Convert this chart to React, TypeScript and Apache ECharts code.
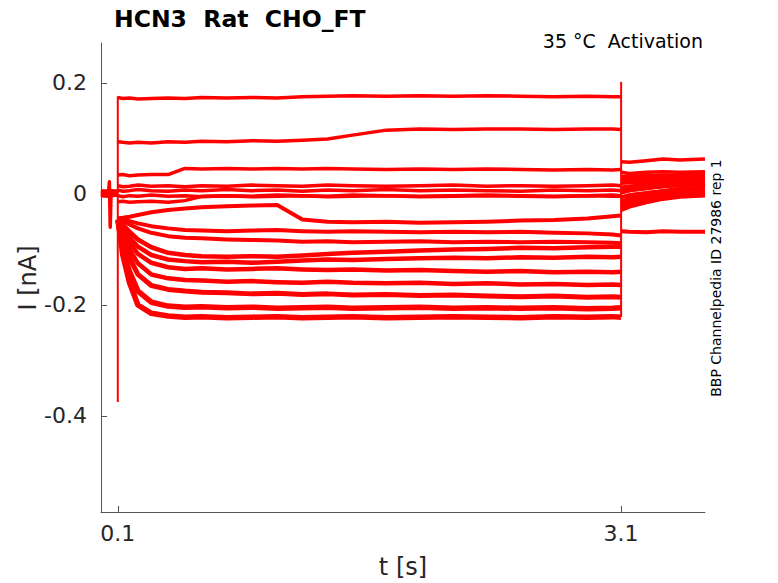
import React, { useEffect, useRef } from "react";
import * as echarts from "echarts";

// time base (s): holding 0–0.099, step 0.101–3.099, tail 3.101–3.6
const TIME = [
  0, 0.045, 0.05, 0.055, 0.06, 0.099,
  0.101, 0.13, 0.17, 0.22, 0.3, 0.4, 0.5, 0.6, 0.75, 0.9, 1.05, 1.2, 1.35, 1.5, 1.7, 1.9, 2.1, 2.3, 2.5, 2.7, 2.9, 3.05, 3.099,
  3.101, 3.15, 3.25, 3.35, 3.45, 3.6,
];

// currents (nA)
const T1 = [0.003, 0.004, 0.003, 0.004, 0.003, 0.002,
  0.174, 0.172, 0.173, 0.171, 0.172, 0.173, 0.172, 0.174, 0.173, 0.174, 0.173, 0.175, 0.176, 0.177, 0.176, 0.177, 0.176, 0.177, 0.176, 0.175, 0.176, 0.175, 0.175,
  0.058, 0.057, 0.06, 0.063, 0.061, 0.063];
const T2 = [0.001, 0, 0.001, 0, 0.002, 0.001,
  0.094, 0.093, 0.092, 0.093, 0.092, 0.094, 0.093, 0.095, 0.094, 0.096, 0.095, 0.097, 0.099, 0.106, 0.115, 0.117, 0.116, 0.117, 0.117, 0.116, 0.117, 0.117, 0.116,
  0.039, 0.037, 0.039, 0.04, 0.039, 0.04];
const T3 = [0.004, 0.005, 0.004, 0.003, 0.005, 0.004,
  0.034, 0.035, 0.033, 0.034, 0.035, 0.035, 0.046, 0.045, 0.046, 0.045, 0.046, 0.045, 0.046, 0.045, 0.044, 0.045, 0.044, 0.045, 0.044, 0.043, 0.044, 0.043, 0.044,
  0.032, 0.03, 0.032, 0.034, 0.033, 0.035];
const C1 = [0.006, 0.005, 0.007, 0.005, 0.006, 0.005,
  0.015, 0.013, 0.014, 0.016, 0.014, 0.015, 0.013, 0.015, 0.014, 0.016, 0.015, 0.014, 0.016, 0.015, 0.014, 0.015, 0.016, 0.014, 0.015, 0.014, 0.015, 0.016, 0.015,
  0.025, 0.027, 0.028, 0.027, 0.029, 0.03];
const C2 = [0.002, 0.003, 0.022, -0.06, 0.001, 0.003,
  0.007, 0.005, 0.006, 0.008, 0.006, 0.005, 0.007, 0.006, 0.008, 0.006, 0.007, 0.005, 0.007, 0.006, 0.008, 0.006, 0.007, 0.006, 0.005, 0.007, 0.006, 0.007, 0.006,
  0.012, 0.014, 0.017, 0.02, 0.022, 0.024];
const C3 = [-0.003, -0.004, -0.002, -0.004, -0.003, -0.002,
  -0.003, -0.005, -0.003, -0.004, -0.002, -0.004, -0.003, -0.005, -0.003, -0.004, -0.002, -0.003, -0.004, -0.002, -0.003, -0.004, -0.003, -0.002, -0.003, -0.004, -0.003, -0.002, -0.003,
  0.002, 0.006, 0.01, 0.014, 0.016, 0.019];
const C4 = [0, -0.001, 0.001, 0, -0.001, 0,
  -0.014, -0.013, -0.015, -0.014, -0.013, -0.015, -0.012, -0.004, -0.003, -0.005, -0.004, -0.003, -0.005, -0.004, -0.003, -0.005, -0.004, -0.003, -0.004, -0.005, -0.003, -0.004, -0.004,
  -0.014, -0.008, 0, 0.006, 0.01, 0.012];
const L1 = [0.001, 0, 0.002, 0.001, 0, 0.001,
  -0.044, -0.043, -0.041, -0.038, -0.033, -0.029, -0.026, -0.024, -0.022, -0.021, -0.02, -0.046, -0.05, -0.051, -0.05, -0.052, -0.051, -0.05, -0.048, -0.047, -0.044, -0.04, -0.039,
  -0.067, -0.068, -0.069, -0.067, -0.068, -0.068];
const L2 = [0, 0.001, 0, -0.001, 0, 0.001,
  -0.044, -0.045, -0.049, -0.053, -0.058, -0.062, -0.065, -0.066, -0.067, -0.066, -0.065, -0.067, -0.068, -0.067, -0.068, -0.069, -0.068, -0.069, -0.068, -0.07, -0.071, -0.073, -0.075,
  -0.006, -0.002, 0.002, 0.005, 0.007, 0.008];
const L3 = [0.002, 0.001, 0.002, 0, 0.001, 0.002,
  -0.045, -0.048, -0.055, -0.062, -0.07, -0.076, -0.079, -0.08, -0.082, -0.083, -0.084, -0.086, -0.085, -0.087, -0.086, -0.085, -0.087, -0.086, -0.087, -0.086, -0.087, -0.088, -0.089,
  -0.014, -0.01, -0.004, 0, 0.004, 0.006];
const L4 = [-0.001, 0, -0.001, 0.001, 0, -0.001,
  -0.046, -0.055, -0.068, -0.082, -0.096, -0.106, -0.11, -0.112, -0.113, -0.112, -0.113, -0.111, -0.108, -0.106, -0.104, -0.102, -0.1, -0.099, -0.097, -0.098, -0.096, -0.095, -0.095,
  -0.02, -0.014, -0.008, -0.003, 0.001, 0.004];
const L5 = [0.001, 0.002, 0, 0.001, 0.002, 0,
  -0.046, -0.06, -0.078, -0.095, -0.11, -0.118, -0.121, -0.123, -0.122, -0.124, -0.122, -0.12, -0.118, -0.119, -0.117, -0.116, -0.115, -0.116, -0.114, -0.115, -0.113, -0.114, -0.113,
  -0.024, -0.018, -0.01, -0.005, -0.001, 0.002];
const L6 = [0, -0.001, 0.001, 0, -0.001, 0,
  -0.047, -0.066, -0.088, -0.108, -0.124, -0.132, -0.135, -0.134, -0.136, -0.135, -0.134, -0.136, -0.137, -0.136, -0.138, -0.137, -0.139, -0.14, -0.139, -0.141, -0.14, -0.141, -0.14,
  0.02, 0.021, 0.023, 0.022, 0.024, 0.025];
const L7 = [0.001, 0, 0.001, 0.002, 0, 0.001,
  -0.047, -0.075, -0.1, -0.125, -0.145, -0.152, -0.155, -0.156, -0.158, -0.157, -0.159, -0.16, -0.158, -0.16, -0.161, -0.16, -0.162, -0.161, -0.163, -0.162, -0.164, -0.163, -0.164,
  0.009, 0.012, 0.014, 0.015, 0.017, 0.018];
const L8 = [0, 0.001, -0.001, 0, 0.001, 0,
  -0.048, -0.085, -0.115, -0.145, -0.165, -0.172, -0.175, -0.177, -0.178, -0.18, -0.179, -0.181, -0.18, -0.182, -0.181, -0.183, -0.182, -0.184, -0.185, -0.184, -0.186, -0.185, -0.186,
  -0.028, -0.022, -0.014, -0.008, -0.004, -0.002];
const L9 = [0.001, 0, 0.002, 0, 0.001, 0,
  -0.048, -0.1, -0.14, -0.175, -0.195, -0.202, -0.204, -0.203, -0.205, -0.204, -0.206, -0.205, -0.204, -0.206, -0.205, -0.204, -0.206, -0.205, -0.206, -0.205, -0.207, -0.206, -0.205,
  0.029, 0.031, 0.032, 0.031, 0.033, 0.034];
const L10 = [0, 0.001, 0, 0.001, 0, 0.001,
  -0.046, -0.11, -0.16, -0.2, -0.215, -0.22, -0.222, -0.221, -0.223, -0.222, -0.221, -0.223, -0.222, -0.221, -0.223, -0.222, -0.221, -0.222, -0.223, -0.221, -0.222, -0.221, -0.222,
  0.005, 0.008, 0.012, 0.015, 0.017, 0.02];

// capacitive transients at step onset / offset
const ONSET_T = [0.1, 0.1];
const ONSET_V = [0.176, -0.375];
const OFFSET_T = [3.1, 3.1];
const OFFSET_V = [-0.222, 0.202];

const TRACES = [T1, T2, T3, C1, C2, C3, C4, L1, L2, L3, L4, L5, L6, L7, L8, L9, L10];
const WIDTHS = [3.5, 3.5, 3.5, 3.5, 3.5, 3.5, 3.5, 4, 4, 4, 4.5, 4.5, 4.5, 4.5, 5, 5.5, 5.5];

const X_TICKS = [0.1, 3.1];
const Y_TICKS = [-0.4, -0.2, 0, 0.2];

const FONT = '"DejaVu Sans", "Liberation Sans", sans-serif';
const RED = "#ff0000";
const INK = "#262626";

function toData(vals: number[]) {
  const out: any[] = [];
  TIME.forEach((t, i) => {
    out.push([t, vals[i]]);
    if (t === 0.099 || t === 3.099) out.push([t, "-"]);
  });
  return out;
}

export default function App() {
  const ref = useRef<HTMLDivElement>(null);
  useEffect(() => {
    document.body.style.margin = "0";
    if (!ref.current) return;
    const chart = echarts.init(ref.current, null, { renderer: "svg" });
    const series: any[] = TRACES.map((vals, k) => ({
      type: "line",
      data: toData(vals),
      showSymbol: false,
      symbol: "none",
      connectNulls: false,
      silent: true,
      lineStyle: { color: RED, width: WIDTHS[k], join: "round" },
    }));
    series.push({
      type: "line",
      data: ONSET_T.map((t, i) => [t, ONSET_V[i]]),
      showSymbol: false,
      symbol: "none",
      silent: true,
      lineStyle: { color: RED, width: 2 },
    });
    series.push({
      type: "line",
      data: OFFSET_T.map((t, i) => [t, OFFSET_V[i]]),
      showSymbol: false,
      symbol: "none",
      silent: true,
      lineStyle: { color: RED, width: 2 },
    });

    chart.setOption({
      animation: false,
      grid: { left: 101, right: 73, top: 43, bottom: 71, containLabel: false, outerBoundsMode: "none" },
      xAxis: {
        type: "value",
        min: 0,
        max: 3.6,
        axisLine: { show: true, onZero: false, lineStyle: { color: "#555", width: 1 } },
        axisTick: { show: true, inside: true, length: 6, customValues: X_TICKS, lineStyle: { color: "#555" } },
        axisLabel: {
          customValues: X_TICKS,
          margin: 10,
          color: INK,
          fontSize: 22,
          fontFamily: FONT,
          formatter: (v: number) => v.toFixed(1),
        },
        splitLine: { show: false },
      },
      yAxis: {
        type: "value",
        min: -0.573,
        max: 0.272,
        axisLine: { show: true, onZero: false, lineStyle: { color: "#555", width: 1 } },
        axisTick: { show: true, inside: true, length: 6, customValues: Y_TICKS, lineStyle: { color: "#555" } },
        axisLabel: {
          customValues: Y_TICKS,
          margin: 14,
          color: INK,
          fontSize: 22,
          fontFamily: FONT,
          formatter: (v: number) => (v === 0 ? "0" : String(v)),
        },
        splitLine: { show: false },
      },
      series,
      graphic: [
        {
          type: "text",
          x: 114,
          y: 19,
          style: {
            text: "HCN3  Rat  CHO_FT",
            fill: "#000",
            font: `bold 23.5px ${FONT}`,
            textAlign: "left",
            textVerticalAlign: "middle",
          },
        },
        {
          type: "text",
          x: 703,
          y: 41,
          style: {
            text: "35 °C  Activation",
            fill: "#000",
            font: `19px ${FONT}`,
            textAlign: "right",
            textVerticalAlign: "middle",
          },
        },
        {
          type: "text",
          x: 403,
          y: 567,
          style: {
            text: "t [s]",
            fill: INK,
            font: `24px ${FONT}`,
            textAlign: "center",
            textVerticalAlign: "middle",
          },
        },
        {
          type: "text",
          x: 28,
          y: 278,
          rotation: Math.PI / 2,
          style: {
            text: "I [nA]",
            fill: INK,
            font: `24px ${FONT}`,
            textAlign: "center",
            textVerticalAlign: "middle",
          },
        },
        {
          type: "text",
          x: 716,
          y: 278,
          rotation: Math.PI / 2,
          style: {
            text: "BBP Channelpedia ID 27986 rep 1",
            fill: "#000",
            font: `14px ${FONT}`,
            textAlign: "center",
            textVerticalAlign: "middle",
          },
        },
      ],
    });
    return () => chart.dispose();
  }, []);
  return <div ref={ref} style={{ width: 778, height: 583 }} />;
}
